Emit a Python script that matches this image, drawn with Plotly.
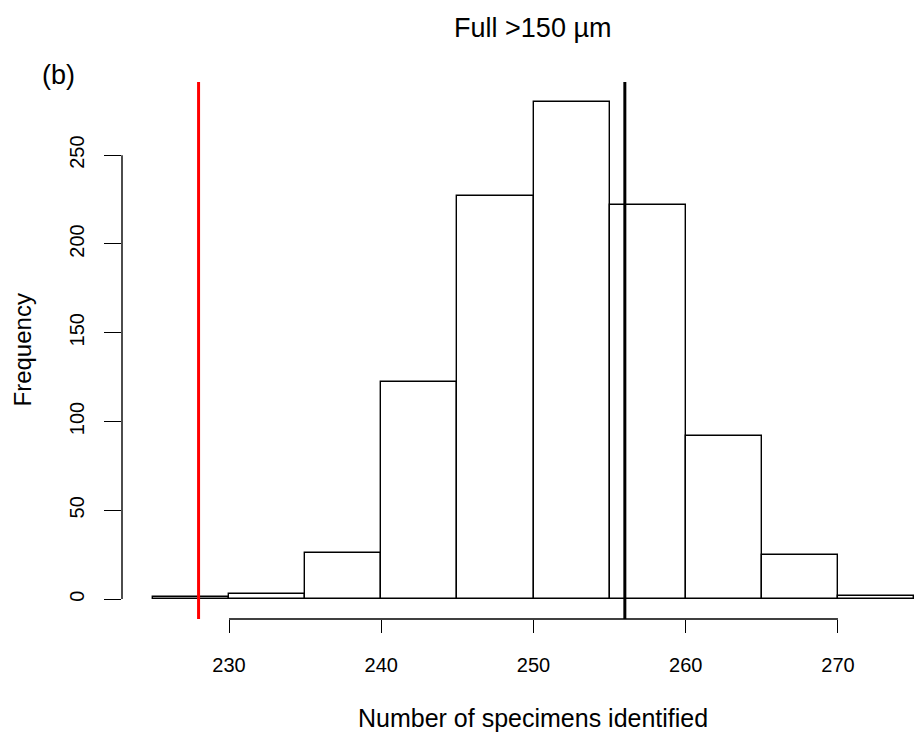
import plotly.graph_objects as go

bin_left = [225, 230, 235, 240, 245, 250, 255, 260, 265, 270]
counts = [1, 3, 26, 122, 227, 280, 222, 92, 25, 2]
bin_width = 5
x_ticks = [230, 240, 250, 260, 270]
y_ticks = [0, 50, 100, 150, 200, 250]
red_line = 228
black_line = 256

centers = [b + bin_width / 2 for b in bin_left]
FONT = "Liberation Sans, Arial, sans-serif"

fig = go.Figure()
fig.add_trace(go.Bar(
    x=centers, y=counts, width=[bin_width] * len(counts),
    marker=dict(color="white", line=dict(color="black", width=1.4)),
    showlegend=False, hoverinfo="x+y",
))

fig.add_shape(type="line", xref="x", yref="paper", x0=red_line, x1=red_line, y0=0, y1=1,
              line=dict(color="#ff0000", width=3))
fig.add_shape(type="line", xref="x", yref="paper", x0=black_line, x1=black_line, y0=0, y1=1,
              line=dict(color="black", width=3))
# R-style axis lines spanning first to last tick
fig.add_shape(type="line", xref="x", yref="paper", x0=x_ticks[0], x1=x_ticks[-1], y0=0, y1=0,
              line=dict(color="black", width=1.4))
fig.add_shape(type="line", xref="paper", yref="y", x0=0, x1=0, y0=y_ticks[0], y1=y_ticks[-1],
              line=dict(color="black", width=1.4))

fig.update_layout(
    width=915, height=735,
    margin=dict(l=122, r=0, t=82, b=116),
    paper_bgcolor="white", plot_bgcolor="white",
    font=dict(family=FONT, size=20, color="black"),
    bargap=0,
    title=dict(text="Full >150 µm", x=0.518, xref="paper", xanchor="center",
               y=1 - 28 / 735, yref="container", yanchor="middle",
               font=dict(family=FONT, size=27, color="black")),
    xaxis=dict(range=[222.97, 275.06], tickvals=x_ticks, ticks="outside", ticklen=13,
               tickwidth=1.4, tickcolor="black", showgrid=False, zeroline=False,
               showline=False, tickfont=dict(size=20), ticklabelstandoff=15),
    yaxis=dict(range=[-11.2, 291.2], tickvals=y_ticks, ticks="outside", ticklen=17,
               tickwidth=1.4, tickcolor="black", showgrid=False, zeroline=False,
               showline=False, tickangle=-90, tickfont=dict(size=20), ticklabelstandoff=12),
    annotations=[
        dict(text="Number of specimens identified", xref="paper", yref="paper",
             x=0.518, y=0, yshift=-99, xanchor="center", yanchor="middle",
             showarrow=False, font=dict(family=FONT, size=25)),
        dict(text="Frequency", xref="paper", yref="paper", x=0, xshift=-100, y=0.5,
             textangle=-90, xanchor="center", yanchor="middle",
             showarrow=False, font=dict(family=FONT, size=24)),
        dict(text="(b)", xref="paper", yref="paper", x=0, xshift=-64, y=1, yshift=7,
             xanchor="center", yanchor="middle", showarrow=False,
             font=dict(family=FONT, size=27)),
    ],
)

fig.write_html("out.html")
